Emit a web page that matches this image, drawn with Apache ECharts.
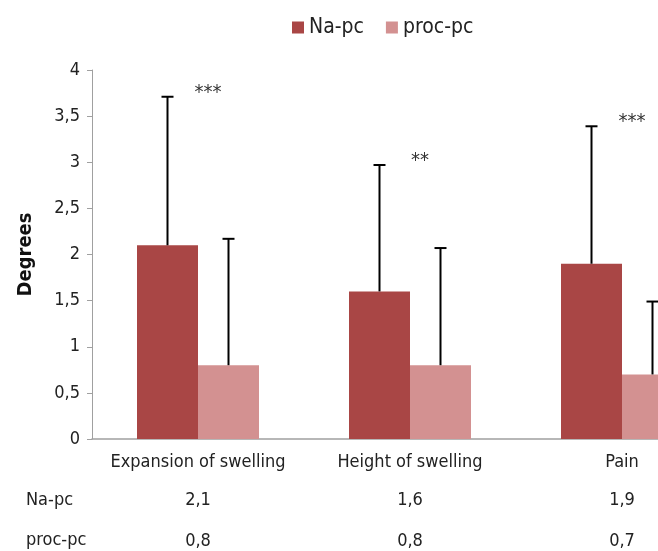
<!DOCTYPE html>
<html>
<head>
<meta charset="utf-8">
<script src="https://cdn.jsdelivr.net/npm/echarts@6/dist/echarts.min.js"></script>
<style>
  html, body { margin: 0; padding: 0; background: #fff; }
  #chart { width: 658px; height: 551px; }
</style>
</head>
<body>
<div id="chart"></div>
<script>
// Symptom scores (degrees) for the two anaesthetic groups
const categories = ['Expansion of swelling', 'Height of swelling', 'Pain'];
const seriesNames = ['Na-pc', 'proc-pc'];
const naValues = [2.1, 1.6, 1.9];
const procValues = [0.8, 0.8, 0.7];
// Upper end of each standard-deviation whisker
const naErrTop = [3.71, 2.97, 3.39];
const procErrTop = [2.17, 2.07, 1.49];
// Significance markers shown above the Na-pc whiskers
const significance = ['***', '**', '***'];
const yTicks = [0, 0.5, 1, 1.5, 2, 2.5, 3, 3.5, 4];

const FONT = '"Liberation Sans Narrow", "DejaVu Sans Condensed", sans-serif';
const NA_COLOR = '#A94645';
const PROC_COLOR = '#D39191';
const BAR_W = 61;

const fmt = v => String(v).replace('.', ',');

function errorRenderer(side, withStars) {
  return function (params, api) {
    const cat = api.value(0);
    const base = api.coord([cat, api.value(1)]);
    const top = api.coord([cat, api.value(2)]);
    const x = base[0] + side * BAR_W / 2;
    const children = [
      { type: 'line', shape: { x1: x, y1: base[1], x2: x, y2: top[1] },
        style: { stroke: '#000', lineWidth: 2 } },
      { type: 'line', shape: { x1: x - 6, y1: top[1], x2: x + 6, y2: top[1] },
        style: { stroke: '#000', lineWidth: 2 } }
    ];
    if (withStars) {
      children.push({
        type: 'text',
        style: {
          text: significance[params.dataIndex],
          x: base[0] + 10, y: top[1] - 4,
          textAlign: 'center', textVerticalAlign: 'middle',
          font: '20px ' + FONT, fill: '#333'
        }
      });
    }
    return { type: 'group', children };
  };
}

const axisText = { color: '#222', fontSize: 18, fontFamily: FONT };

const chart = echarts.init(document.getElementById('chart'));
chart.setOption({
  animation: false,
  textStyle: { fontFamily: FONT },
  legend: {
    left: 287, top: 12,
    itemWidth: 12, itemHeight: 12, itemGap: 22,
    icon: 'rect',
    textStyle: { fontSize: 21, color: '#222', fontFamily: FONT },
    data: seriesNames
  },
  grid: { left: 92, top: 70, width: 636, height: 369, outerBoundsMode: 'none', containLabel: false },
  xAxis: [
    {
      type: 'category', data: categories,
      axisLine: { lineStyle: { color: '#a0a0a0', width: 1.5 } },
      axisTick: { show: false },
      axisLabel: Object.assign({ margin: 14, interval: 0 }, axisText)
    },
    {
      type: 'category', data: naValues.map(fmt), position: 'bottom', offset: 38,
      axisLine: { show: false }, axisTick: { show: false },
      axisLabel: Object.assign({ margin: 14, interval: 0 }, axisText)
    },
    {
      type: 'category', data: procValues.map(fmt), position: 'bottom', offset: 79,
      axisLine: { show: false }, axisTick: { show: false },
      axisLabel: Object.assign({ margin: 14, interval: 0 }, axisText)
    }
  ],
  yAxis: {
    type: 'value', min: yTicks[0], max: yTicks[yTicks.length - 1], interval: 0.5,
    name: 'Degrees', nameLocation: 'middle', nameGap: 56, nameRotate: 90,
    nameTextStyle: { fontSize: 20, fontWeight: 'bold', color: '#111', fontFamily: FONT },
    axisLine: { show: true, lineStyle: { color: '#a0a0a0', width: 1 } },
    axisTick: { show: true, length: 5, lineStyle: { color: '#a0a0a0' } },
    splitLine: { show: false },
    axisLabel: Object.assign({ margin: 12, formatter: v => fmt(v) }, axisText)
  },
  graphic: [
    { type: 'text', left: 26, top: 491, style: { text: seriesNames[0], font: '18px ' + FONT, fill: '#222' } },
    { type: 'text', left: 26, top: 531, style: { text: seriesNames[1], font: '18px ' + FONT, fill: '#222' } }
  ],
  series: [
    {
      name: seriesNames[0], type: 'bar', data: naValues,
      barWidth: BAR_W, barGap: '0%',
      itemStyle: { color: NA_COLOR }
    },
    {
      name: seriesNames[1], type: 'bar', data: procValues,
      barWidth: BAR_W, barGap: '0%',
      itemStyle: { color: PROC_COLOR }
    },
    {
      type: 'custom', renderItem: errorRenderer(-1, true), z: 5,
      data: categories.map((c, i) => [i, naValues[i], naErrTop[i]])
    },
    {
      type: 'custom', renderItem: errorRenderer(1, false), z: 5,
      data: categories.map((c, i) => [i, procValues[i], procErrTop[i]])
    }
  ]
});
</script>
</body>
</html>
